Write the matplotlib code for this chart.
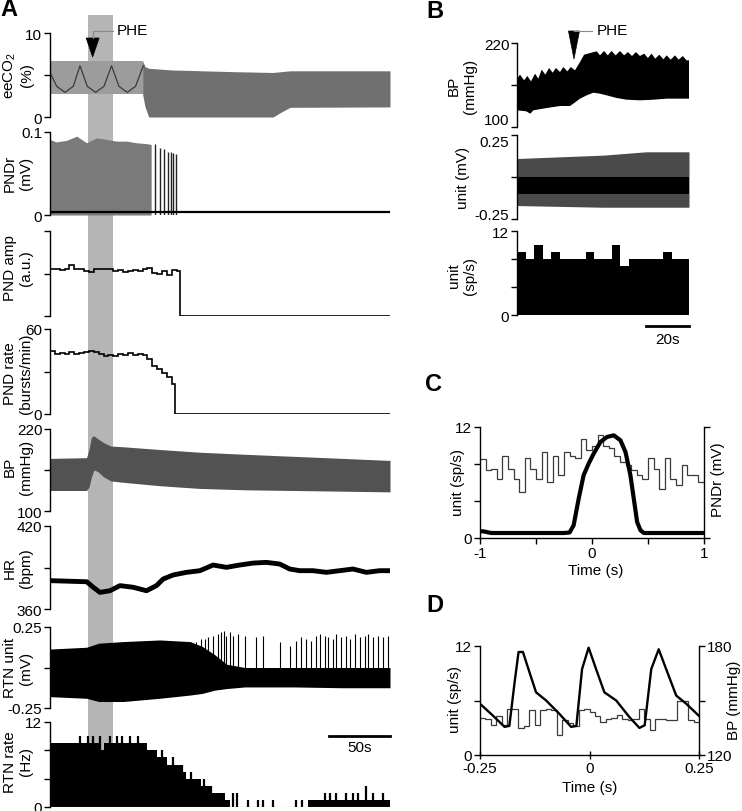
import numpy as np
import matplotlib
matplotlib.use('Agg')
import matplotlib.pyplot as plt
from matplotlib.patches import Rectangle, Polygon
from matplotlib.lines import Line2D
from matplotlib.transforms import blended_transform_factory

plt.rcParams['font.family'] = ['Liberation Sans', 'DejaVu Sans']
plt.rcParams['font.size'] = 11
plt.rcParams['axes.linewidth'] = 1.0
plt.rcParams['mathtext.fontset'] = 'custom'
plt.rcParams['mathtext.rm'] = 'Liberation Sans'
plt.rcParams['mathtext.it'] = 'Liberation Sans:italic'

# ======================= DATA =======================
# ---- Panel A (time in s) ----
phe_A = 35.0
phe_band = (31.0, 51.5)

co2_t1 = [0, 76]
co2_hi1 = [6.7, 6.7]
co2_lo1 = [2.7, 2.7]
co2_t2 = [76, 78, 81, 100, 150, 183, 190, 197, 279]
co2_hi2 = [6.7, 6.0, 5.8, 5.6, 5.4, 5.3, 5.4, 5.5, 5.5]
co2_lo2 = [2.7, 1.2, 0.0, 0.0, 0.0, 0.0, 0.6, 1.15, 1.2]
co2_wave_t = [0, 5.5, 12.3, 19.1, 24.6, 30.6, 37.4, 44.3, 50.5, 56.6, 63.4, 70.2, 76.5]
co2_wave_v = [5.3, 3.65, 2.94, 3.65, 6.1, 3.65, 2.94, 3.65, 6.1, 3.65, 2.94, 3.65, 6.1]

pndr_env_t = [0, 5, 13.7, 21.9, 30, 38.3, 46.4, 54.6, 62.8, 71, 79.2, 83]
pndr_env_v = [0.091, 0.088, 0.090, 0.095, 0.087, 0.093, 0.091, 0.089, 0.089, 0.087, 0.086, 0.085]
pndr_tail_t = [86.0, 90.2, 93.4, 96.5, 98.9, 101.0, 103.8]
pndr_tail_v = [0.0855, 0.081, 0.0795, 0.0763, 0.0755, 0.0747, 0.0735]
pndr_base = 0.004

pnd_amp = [1.10, 1.11, 1.08, 1.10, 1.19, 1.10, 1.11, 1.07, 1.04, 1.10, 1.11, 1.10, 1.11,
           1.06, 1.08, 1.04, 1.06, 1.08, 1.06, 1.11, 1.14, 1.02, 0.98, 1.06, 0.96, 1.08, 1.06]
pnd_amp_stop = 106.5

pnd_rate = [44.7, 42.4, 43.0, 42.4, 43.5, 42.4, 43.0, 44.0, 44.7, 43.5, 42.4, 41.2, 41.6,
            41.2, 42.4, 41.6, 43.0, 41.6, 42.4, 41.6, 38.8, 34.1, 31.8, 28.9, 25.9, 21.0]
pnd_rate_stop = 102.5

bpA_t = [0, 30, 32, 34, 36, 39, 44, 50, 60, 90, 123, 160, 200, 240, 279]
bpA_hi = [177, 178, 190, 208, 210, 206, 200, 195, 194, 190, 186, 183, 180, 177, 174]
bpA_lo = [130, 130, 135, 150, 160, 158, 150, 144, 142, 137, 133, 131, 130, 129, 128]

hr_t = [0, 30.1, 35.5, 41.0, 49.2, 57.4, 68.3, 79.2, 87.4, 92.9, 101.1, 112, 123, 133.9,
        144.8, 155.7, 166.7, 177.6, 188.5, 196.7, 204.9, 215.8, 226.8, 237.7, 248.6,
        259.6, 270.5, 278.7]
hr_v = [380.5, 379.7, 375.7, 372.0, 373.2, 376.9, 375.7, 373.2, 376.9, 381.7, 384.6, 386.5,
        387.7, 391.8, 390.1, 391.8, 393.2, 393.7, 392.5, 388.9, 387.7, 387.7, 386.5, 387.7,
        388.9, 386.5, 387.7, 387.7]

rtnu_t = [0, 30, 40, 60, 90, 115, 125, 135, 145, 160, 200, 240, 279]
rtnu_hi = [0.114, 0.125, 0.15, 0.16, 0.17, 0.16, 0.13, 0.08, 0.02, 0.0, 0.0, 0.0, 0.0]
rtnu_lo = [-0.18, -0.19, -0.21, -0.21, -0.19, -0.17, -0.16, -0.14, -0.13, -0.12, -0.12, -0.125, -0.125]
rtnu_spk_t = [90.2, 95.6, 120.2, 124.3, 127.0, 129.8, 133.9, 138.0, 140.7, 142.6, 144.8,
              147.5, 150.3, 154.4, 159.8, 169.4, 174.9, 188.5, 196.7, 201.6, 206.3, 210.4,
              214.5, 218.6, 221.3, 225.4, 228.1, 232.2, 235.0, 239.1, 243.2, 245.9, 250.0,
              254.1, 258.2, 260.9, 265.0, 269.1, 273.2, 277.3]
rtnu_spk_v = [0.125, 0.135, 0.155, 0.176, 0.176, 0.186, 0.196, 0.207, 0.217, 0.227, 0.196,
              0.217, 0.196, 0.207, 0.196, 0.186, 0.196, 0.155, 0.135, 0.166, 0.186, 0.176,
              0.166, 0.196, 0.207, 0.196, 0.186, 0.176, 0.207, 0.186, 0.196, 0.176, 0.207,
              0.186, 0.196, 0.207, 0.186, 0.196, 0.186, 0.196]

rtn_rate = [9, 9, 9, 9, 9, 9, 9, 9, 9, 9, 8, 9, 9, 9, 9, 9, 9, 9, 9, 9,
            8, 8, 7, 7, 6, 6, 6, 5, 4, 4, 4, 3, 3, 2, 2, 2, 1, 0, 0, 0,
            0, 0, 0, 0, 0, 0, 0, 0, 0, 0, 0, 0, 0, 1, 1, 1, 1, 1, 1, 1,
            1, 1, 1, 1, 1, 1, 1, 1, 1, 1]
rtn_spk_t = [24.6, 31.4, 35.5, 41.0, 49.2, 54.6, 58.7, 65.6, 72.4, 91.5, 101.1, 108.7,
             116.1, 122.4, 126.2, 132.5, 150.3, 153.6, 162.6, 170.8, 174.9, 183.1, 202.2,
             207.1, 225.4, 229.5, 235.0, 243.2, 248.6, 252.7, 259.6, 265.0, 273.2]
rtn_spk_v = [10, 10, 10, 10, 10, 10, 10, 10, 10, 8, 7, 6, 5, 4, 4, 3, 2, 2, 1, 1, 1, 1, 1,
             1, 2, 2, 2, 2, 2, 2, 3, 2, 2]

# ---- Panel B (time in s) ----
phe_B = 26.5
bpB_up_t = [0, 1.4, 3.3, 4.8, 6.5, 8.4, 9.9, 11.5, 13.2, 14.9, 16.6, 18.1, 20.0, 21.6, 23.4,
            25.0, 27.0, 29.3, 31.2, 34.7, 37.1, 38.6, 40.5, 42.2, 44.0, 45.9, 47.9, 49.8,
            51.6, 53.5, 55.3, 57.2, 59.1, 60.9, 62.6, 64.3, 66.2, 68.1, 69.6, 71.5, 73.5,
            75.2, 77.1, 78.9, 80]
bpB_up = [169, 174.8, 166.7, 172.9, 165.2, 176.2, 169.0, 181.9, 174.8, 184.3, 177.6, 184.3,
          178.6, 185.7, 179.5, 185.7, 181.0, 192.9, 203.3, 206.2, 208.1, 202.4, 208.6, 202.4,
          208.6, 202.4, 208.6, 202.4, 207.1, 201.4, 207.1, 201.4, 204.8, 198.6, 204.8, 197.6,
          203.3, 196.7, 202.4, 196.2, 202.4, 196.2, 201.4, 195.2, 195.2]
bpB_lo_t = [0, 4.3, 6.2, 7.6, 13.8, 20, 24.6, 26.2, 29.3, 32.4, 35.5, 38.6, 41.7, 46.4, 51.0,
            57.2, 63.4, 69.6, 75.8, 80]
bpB_lo = [123.8, 122.4, 119.0, 123.8, 127.1, 130.0, 130.0, 133.3, 140.5, 145.2, 149.0,
          147.6, 145.2, 141.4, 139.0, 138.1, 139.0, 140.5, 140.5, 140.5]

unitB_t = [0, 20, 40, 60, 80]
unitB_spk_hi = [0.11, 0.12, 0.13, 0.15, 0.15]
unitB_spk_lo = [-0.17, -0.175, -0.18, -0.18, -0.18]
unitB_core_hi = [-0.002, -0.002, -0.002, -0.002, -0.002]
unitB_core_lo = [-0.101, -0.101, -0.101, -0.101, -0.101]

rateB = [9, 8, 10, 8, 9, 8, 8, 8, 9, 8, 8, 10, 7, 8, 8, 8, 8, 9, 8, 8]

# ---- Panel C (time in s) ----
histC = [8.58, 7.3, 7.5, 6.4, 8.9, 7.5, 6.4, 5.0, 8.6, 7.5, 6.4, 9.3, 6.05, 8.9, 6.8, 9.3,
         8.9, 8.6, 10.7, 9.5, 10.0, 11.1, 10.0, 9.7, 8.9, 8.2, 7.9, 7.3, 6.8, 6.4, 8.6, 7.5,
         5.3, 8.6, 6.4, 5.7, 7.9, 6.8, 6.8, 6.05]
pndrC_t = [-1.0, -0.97, -0.9, -0.5, -0.25, -0.2, -0.164, -0.119, -0.075, -0.03, 0.015,
           0.075, 0.134, 0.194, 0.254, 0.299, 0.343, 0.373, 0.403, 0.433, 0.463, 0.5, 1.0]
pndrC_v = [0.06, 0.06, 0.045, 0.045, 0.045, 0.05, 0.114, 0.354, 0.565, 0.67, 0.76, 0.865,
           0.91, 0.925, 0.88, 0.775, 0.565, 0.354, 0.144, 0.069, 0.045, 0.045, 0.045]

# ---- Panel D (time in s) ----
histD = [4.1, 4.0, 3.3, 4.3, 3.3, 5.1, 5.1, 3.0, 3.2, 4.9, 3.3, 4.9, 5.1, 5.0, 2.2, 3.8,
         3.5, 3.2, 4.9, 5.1, 4.7, 4.3, 3.6, 4.0, 4.1, 4.4, 4.0, 3.9, 4.0, 5.1, 4.0, 2.7,
         4.0, 4.0, 3.8, 3.8, 6.0, 6.0, 3.8, 3.6]
bpD_t = [-0.25, -0.221, -0.194, -0.183, -0.171, -0.162, -0.152, -0.137, -0.122, -0.099,
         -0.069, -0.042, -0.030, -0.017, -0.002, 0.015, 0.034, 0.061, 0.091, 0.114, 0.126,
         0.141, 0.158, 0.175, 0.198, 0.221, 0.25]
bpD_v = [148.2, 141.8, 135.5, 136.0, 160.0, 176.7, 176.7, 165.5, 154.5, 150.0, 142.7, 135.5,
         136.0, 167.3, 179.1, 167.3, 154.5, 150.0, 140.9, 134.9, 136.4, 167.3, 178.2, 167.3,
         152.7, 148.2, 141.5]

# ======================= FIGURE =======================
W, H = 742, 812
fig = plt.figure(figsize=(W / 100, H / 100), dpi=100)


def rect(l, t, r, b):
    return [l / W, 1 - b / H, (r - l) / W, (b - t) / H]


def ftext(x, y, s, **kw):
    kw.setdefault('ha', 'center')
    kw.setdefault('va', 'center')
    return fig.text(x / W, 1 - y / H, s, **kw)


def style_left(ax, xlim, ylim, ticks, labels):
    ax.set_xlim(*xlim)
    ax.set_ylim(*ylim)
    for s in ['top', 'right', 'bottom']:
        ax.spines[s].set_visible(False)
    ax.set_xticks([])
    ax.set_yticks(ticks)
    ax.set_yticklabels(labels)
    ax.tick_params(axis='y', direction='out', length=4, width=1, labelsize=11, pad=1.5)
    ax.set_facecolor('none')


# ---------- Panel A ----------
rowsA = [(34, 118), (133, 216), (232, 317), (330, 415), (430, 512), (527, 610), (628, 709), (723, 808)]
axA = [fig.add_axes(rect(50, t, 390, b)) for (t, b) in rowsA]
xlA = (0, 279)
a1, a2, a3, a4, a5, a6, a7, a8 = axA

style_left(a1, xlA, (0, 10), [0, 5, 10], ['0', '', '10'])
a1.fill_between(co2_t1, co2_lo1, co2_hi1, color='#9c9c9c', lw=0)
a1.fill_between(co2_t2, co2_lo2, co2_hi2, color='#707070', lw=0)
a1.plot(co2_wave_t, co2_wave_v, color='#3a3a3a', lw=0.9)

style_left(a2, xlA, (0, 0.1), [0, 0.1], ['0', '0.1'])
a2.fill_between(pndr_env_t, 0, pndr_env_v, color='#7a7a7a', lw=0)
a2.vlines(pndr_tail_t, 0, pndr_tail_v, color='#222222', lw=1.0)
a2.plot(xlA, [pndr_base, pndr_base], color='k', lw=1.6)

style_left(a3, xlA, (0, 2), [0, 1, 2], ['', '', ''])
amp_edges = list(np.arange(0, 105, 4)) + [pnd_amp_stop, xlA[1]]
a3.stairs(pnd_amp + [0.0], amp_edges, baseline=None, color='k', lw=1.2)

style_left(a4, xlA, (0, 60), [0, 30, 60], ['0', '', '60'])
rate_edges = list(np.arange(0, 101, 4)) + [pnd_rate_stop, xlA[1]]
a4.stairs(pnd_rate + [0.0], rate_edges, baseline=None, color='k', lw=1.2)

style_left(a5, xlA, (100, 220), [100, 160, 220], ['100', '', '220'])
a5.fill_between(bpA_t, bpA_lo, bpA_hi, color='#525252', lw=0)

style_left(a6, xlA, (360, 420), [360, 390, 420], ['360', '', '420'])
a6.plot(hr_t, hr_v, color='k', lw=3.5, solid_joinstyle='round')

style_left(a7, xlA, (-0.25, 0.25), [-0.25, 0, 0.25], ['-0.25', '', '0.25'])
a7.fill_between(rtnu_t, rtnu_lo, rtnu_hi, color='k', lw=0)
a7.vlines(rtnu_spk_t, -0.05, rtnu_spk_v, color='k', lw=0.8)

style_left(a8, xlA, (0, 12), [0, 4, 8, 12], ['0', '', '', '12'])
a8.stairs(rtn_rate, np.arange(0, 4 * len(rtn_rate) + 1, 4), fill=True, color='k', lw=0)
a8.vlines(rtn_spk_t, 0, rtn_spk_v, color='k', lw=1.6)
a8.plot(xlA, [0, 0], color='#999999', lw=0.8)
# 50 s scale bar
a8.plot([229, 279], [10.0, 10.0], color='k', lw=2, clip_on=False)
a8.text(254, 8.4, '50s', ha='center', va='center', fontsize=11)

# Y labels panel A
labA = [('eeCO$_2$\n(%)', 75), ('PNDr\n(mV)', 173), ('PND amp\n(a.u.)', 268),
        ('PND rate\n(bursts/min)', 374), ('BP\n(mmHg)', 467), ('HR\n(bpm)', 568),
        ('RTN unit\n(mV)', 668), ('RTN rate\n(Hz)', 762)]
for s, y in labA:
    ftext(18, y, s, rotation=90, fontsize=11, linespacing=1.15, multialignment='center')

# PHE shaded band
trA = blended_transform_factory(a1.transData, fig.transFigure)
fig.add_artist(Rectangle((phe_band[0], 1 - 808 / H), phe_band[1] - phe_band[0], (808 - 16) / H,
                         transform=trA, color='#b5b5b5', lw=0, zorder=-5))


def phe_marker(ax, tphe, ytop, ytip, hw, line_end, text_x, text_y):
    xp = ax.transData.transform((tphe, 0))[0]
    tri = Polygon([((xp - hw) / W, 1 - ytop / H), ((xp + hw) / W, 1 - ytop / H),
                   (xp / W, 1 - ytip / H)], closed=True, transform=fig.transFigure,
                  facecolor='k', edgecolor='k', lw=0.5)
    fig.add_artist(tri)
    fig.add_artist(Line2D([xp / W, xp / W, (xp + line_end) / W],
                          [1 - ytop / H, 1 - (text_y + 1) / H, 1 - (text_y + 1) / H],
                          transform=fig.transFigure, color='#888888', lw=0.8))
    ftext(xp + text_x, text_y, 'PHE', ha='left', fontsize=11)


phe_marker(a1, phe_A, 39, 58, 6.5, 20, 24, 31)

# ---------- Panel B ----------
rowsB = [(44, 128), (136, 220), (232, 316)]
b1, b2, b3 = [fig.add_axes(rect(517, t, 689, b)) for (t, b) in rowsB]
xlB = (0, 80)
style_left(b1, xlB, (100, 220), [100, 160, 220], ['100', '', '220'])
b1.fill(bpB_up_t + bpB_lo_t[::-1], bpB_up + bpB_lo[::-1], color='k', lw=0)

style_left(b2, xlB, (-0.25, 0.25), [-0.25, 0, 0.25], ['-0.25', '', '0.25'])
b2.fill_between(unitB_t, unitB_spk_lo, unitB_spk_hi, color='#4a4a4a', lw=0)
b2.fill_between(unitB_t, unitB_core_lo, unitB_core_hi, color='k', lw=0)

style_left(b3, xlB, (0, 12), [0, 4, 8, 12], ['0', '', '', '12'])
b3.stairs(rateB, np.arange(0, 4 * len(rateB) + 1, 4), fill=True, color='k', lw=0)
b3.plot([60, 80], [-1.57, -1.57], color='k', lw=2, clip_on=False)
b3.text(70, -3.4, '20s', ha='center', va='center', fontsize=11)

# keep the adjacent end labels apart as in the reference
b1.get_yticklabels()[0].set_va('bottom')
b2.get_yticklabels()[2].set_va('top')
b2.get_yticklabels()[0].set_va('baseline')

ftext(462, 86, 'BP\n(mmHg)', rotation=90, fontsize=11, linespacing=1.15)
ftext(463, 178, 'unit (mV)', rotation=90, fontsize=11)
ftext(462, 276, 'unit\n(sp/s)', rotation=90, fontsize=11, linespacing=1.15)
phe_marker(b1, phe_B, 32, 60, 5.5, 18, 23, 31)

# ---------- Panel C ----------
axC = fig.add_axes(rect(480, 428, 704, 539))
axC.set_facecolor('none')
axC.stairs(histC, np.linspace(-1, 1, len(histC) + 1), baseline=None, color='#3a3a3a', lw=0.9)
axC.set_xlim(-1, 1)
axC.set_ylim(0, 12)
axC.spines['top'].set_visible(False)
axC.spines['right'].set_visible(False)
axC.set_yticks([0, 4, 8, 12])
axC.set_yticklabels(['0', '', '', '12'])
axC.set_xticks([-1, -0.5, 0, 0.5, 1])
axC.set_xticklabels(['-1', '', '0', '', '1'])
axC.tick_params(direction='out', length=4, width=1, labelsize=11, pad=1.5)
axC2 = axC.twinx()
axC2.plot(pndrC_t, pndrC_v, color='k', lw=3, solid_joinstyle='round')
axC2.set_ylim(0, 1)
axC2.set_yticks([0, 1])
axC2.set_yticklabels(['', ''])
for s in ['top', 'left', 'bottom']:
    axC2.spines[s].set_visible(False)
axC2.tick_params(direction='out', length=4, width=1)
ftext(458, 483, 'unit (sp/s)', rotation=90, fontsize=11)
ftext(718, 480, 'PNDr (mV)', rotation=90, fontsize=11)
ftext(596, 571, 'Time (s)', fontsize=11)

# ---------- Panel D ----------
axD = fig.add_axes(rect(480, 647, 699, 756))
axD.set_facecolor('none')
axD.stairs(histD, np.linspace(-0.25, 0.25, len(histD) + 1), baseline=None, color='#3a3a3a', lw=0.9)
axD.set_xlim(-0.25, 0.25)
axD.set_ylim(0, 12)
axD.spines['top'].set_visible(False)
axD.spines['right'].set_visible(False)
axD.set_yticks([0, 6, 12])
axD.set_yticklabels(['0', '', '12'])
axD.set_xticks([-0.25, 0, 0.25])
axD.set_xticklabels(['-0.25', '0', '0.25'])
axD.tick_params(axis='y', direction='out', length=4, width=1, labelsize=11, pad=1.5)
axD.tick_params(axis='x', direction='inout', length=6, width=1, labelsize=11, pad=1)
axD2 = axD.twinx()
axD2.plot(bpD_t, bpD_v, color='k', lw=1.7)
axD2.set_ylim(120, 180)
axD2.set_yticks([120, 150, 180])
axD2.set_yticklabels(['120', '', '180'])
for s in ['top', 'left', 'bottom']:
    axD2.spines[s].set_visible(False)
axD2.tick_params(direction='out', length=4, width=1, labelsize=11, pad=1.5)
ftext(455, 700, 'unit (sp/s)', rotation=90, fontsize=11)
ftext(734, 700, 'BP (mmHg)', rotation=90, fontsize=11)
ftext(590, 788, 'Time (s)', fontsize=11)

# Panel letters
for s, x, y in [('A', 9, 10), ('B', 435, 11), ('C', 434, 385), ('D', 435, 606)]:
    ftext(x, y, s, fontsize=17, fontweight='bold')

fig.savefig('out.png', dpi=100)
